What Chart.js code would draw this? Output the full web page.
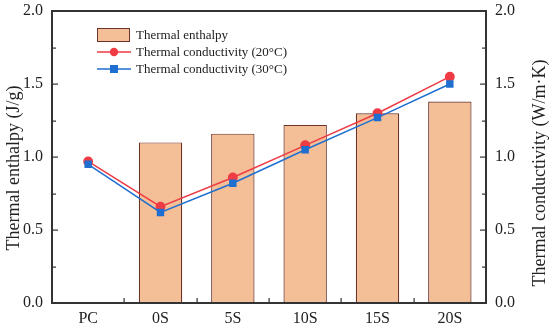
<!DOCTYPE html>
<html>
<head>
<meta charset="utf-8">
<script src="https://cdn.jsdelivr.net/npm/chart.js@4/dist/chart.umd.min.js"></script>
<style>
html,body{margin:0;padding:0;background:#fff;}
#wrap{width:550px;height:331px;position:relative;}
</style>
</head>
<body>
<div id="wrap"><canvas id="c" width="550" height="331"></canvas></div>
<script>
const categories = ["PC", "0S", "5S", "10S", "15S", "20S"];
const enthalpy = [null, 1.10, 1.16, 1.22, 1.30, 1.38];
const cond20 = [0.97, 0.66, 0.86, 1.08, 1.30, 1.55];
const cond30 = [0.95, 0.62, 0.82, 1.05, 1.27, 1.50];
const yTicks = [0.0, 0.5, 1.0, 1.5, 2.0];
const seriesNames = ["Thermal enthalpy", "Thermal conductivity (20°C)", "Thermal conductivity (30°C)"];
const leftTitle = "Thermal enthalpy (J/g)";
const rightTitle = "Thermal conductivity (W/m·K)";

const FONT = "'Liberation Serif', 'Times New Roman', serif";
const AXIS = "#333333";

const annotPlugin = {
  id: "annot",
  afterDraw(chart) {
    const ctx = chart.ctx;
    const y = chart.scales.y, x = chart.scales.x, y1 = chart.scales.y1;
    const L = Math.round(y.right), R = Math.round(y1.left), T = Math.round(y.top), B = Math.round(y.bottom);
    ctx.save();
    // frame as filled rectangles
    ctx.fillStyle = AXIS;
    ctx.fillRect(L - 1, T - 1, R - L + 2, 2);
    ctx.fillRect(L - 1, B - 1, R - L + 2, 2);
    ctx.fillRect(L - 1, T - 1, 2, B - T + 2);
    ctx.fillRect(R - 1, T - 1, 2, B - T + 2);
    // y ticks (major + minor), inward on both sides
    for (let k = 0; k <= (yTicks.length - 1) * 2; k++) {
      const v = yTicks[0] + k * (yTicks[1] - yTicks[0]) / 2;
      const py = Math.round(y.getPixelForValue(v));
      const len = (k % 2 === 0) ? 6 : 4;
      ctx.fillRect(L, py - 0.5, len, 1.2);
      ctx.fillRect(R - len, py - 0.5, len, 1.2);
    }
    // x ticks between categories, inward
    for (let i = 1; i < categories.length; i++) {
      const px = Math.round((x.getPixelForValue(i - 1) + x.getPixelForValue(i)) / 2);
      ctx.fillRect(px - 0.5, B - 5, 1.2, 5);
    }
    // axis titles
    ctx.fillStyle = "#222";
    ctx.font = "18px " + FONT;
    ctx.textAlign = "center";
    ctx.textBaseline = "middle";
    ctx.save();
    ctx.translate(14, 168);
    ctx.rotate(-Math.PI / 2);
    ctx.fillText(leftTitle, 0, 0);
    ctx.restore();
    ctx.save();
    ctx.translate(540, 173);
    ctx.rotate(-Math.PI / 2);
    ctx.fillText(rightTitle, 0, 0);
    ctx.restore();
    // legend
    const ds = chart.data.datasets;
    const lx = 97, rows = [35, 52, 69];
    ctx.font = "13px " + FONT;
    ctx.textAlign = "left";
    ds.forEach((d, i) => {
      const cy = rows[i];
      if (d.type === "bar") {
        ctx.fillStyle = d.borderColor;
        ctx.fillRect(lx, cy - 7, 33, 14);
        ctx.fillStyle = d.backgroundColor;
        ctx.fillRect(lx + 1, cy - 6, 31, 12);
      } else {
        ctx.fillStyle = d.borderColor;
        ctx.fillRect(lx, cy - 0.75, 34, 1.5);
        ctx.fillStyle = d.pointBackgroundColor;
        if (d.pointStyle === "rect") {
          ctx.fillRect(lx + 17 - 4, cy - 4, 8, 8);
        } else {
          ctx.beginPath(); ctx.arc(lx + 17, cy, 4.2, 0, Math.PI * 2); ctx.fill();
        }
      }
      ctx.fillStyle = "#222";
      ctx.fillText(d.label, lx + 39, cy + 1);
    });
    ctx.restore();
  }
};

const yAxisCommon = (pos) => ({
  position: pos, min: 0, max: 2,
  afterBuildTicks(s) { s.ticks = yTicks.map(v => ({ value: v })); },
  grid: { display: false, drawTicks: false },
  border: { display: false },
  ticks: {
    color: "#222", font: { family: FONT, size: 16 }, padding: 9,
    callback: v => Number(v).toFixed(1)
  },
  afterFit(s) { s.width = pos === "left" ? 52 : 64; s.paddingTop = 0; s.paddingBottom = 0; }
});

new Chart(document.getElementById("c"), {
  type: "bar",
  data: {
    labels: categories,
    datasets: [
      {
        type: "bar", label: seriesNames[0], data: enthalpy, yAxisID: "y", xAxisID: "x",
        backgroundColor: "#F4BE96", borderColor: "#6E3328", borderWidth: 1.2,
        borderSkipped: false,
        barPercentage: 0.6, categoryPercentage: 1.0, order: 2
      },
      {
        type: "line", label: seriesNames[1], data: cond20, yAxisID: "y1", xAxisID: "x",
        borderColor: "#EE3B44", backgroundColor: "#EE3B44", pointBackgroundColor: "#EE3B44",
        pointBorderColor: "#EE3B44", pointStyle: "circle", pointRadius: 4.2, borderWidth: 1.5,
        tension: 0, order: 1
      },
      {
        type: "line", label: seriesNames[2], data: cond30, yAxisID: "y1", xAxisID: "x",
        borderColor: "#1F6FD0", backgroundColor: "#1F6FD0", pointBackgroundColor: "#1F6FD0",
        pointBorderColor: "#1F6FD0", pointStyle: "rect", pointRadius: 4.2, borderWidth: 1.5,
        tension: 0, order: 0
      }
    ]
  },
  options: {
    responsive: false,
    animation: false,
    layout: { padding: { top: 11, left: 0, right: 0, bottom: 0 } },
    plugins: { legend: { display: false }, tooltip: { enabled: false } },
    scales: {
      x: {
        position: "bottom",
        offset: true,
        grid: { display: false, drawTicks: false },
        border: { display: false },
        ticks: { color: "#222", font: { family: FONT, size: 16 }, padding: 6 },
        afterFit(s) { s.height = 28; s.paddingLeft = 0; s.paddingRight = 0; }
      },
      y: yAxisCommon("left"),
      y1: yAxisCommon("right")
    }
  },
  plugins: [annotPlugin]
});
</script>
</body>
</html>
